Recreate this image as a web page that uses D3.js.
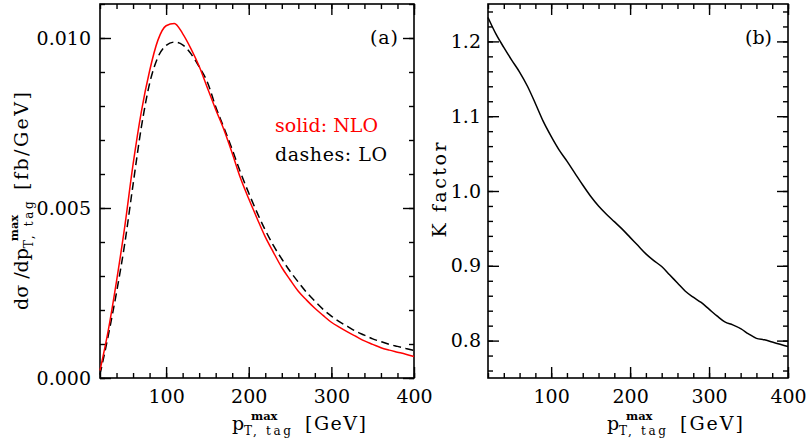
<!DOCTYPE html>
<html><head><meta charset="utf-8">
<script src="https://cdn.jsdelivr.net/npm/d3@7"></script>
<style>
body{margin:0;background:#fff}
svg text{font-family:"DejaVu Serif",serif;fill:#000}
</style></head><body>
<svg id="chart" width="809" height="448"></svg>
<script>
// ---- data ----
const pT = [20,30,40,50,60,70,80,90,100,110,120,130,140,150,160,170,180,190,200,210,220,230,240,250,260,270,280,290,300,310,320,330,340,350,360,370,380,390,400];
const sigmaNLO = [0.00022,0.00140,0.00285,0.00446,0.00628,0.00783,0.00903,0.00993,0.01036,0.01043,0.01013,0.00969,0.00917,0.00853,0.00790,0.00730,0.00661,0.00588,0.00527,0.00470,0.00415,0.00369,0.00325,0.00289,0.00255,0.00229,0.00205,0.00184,0.00164,0.00149,0.00135,0.00122,0.00109,0.00099,0.00089,0.00082,0.00076,0.00070,0.00063];
const sigmaLO = [0.00010,0.00125,0.00252,0.00396,0.00569,0.00737,0.00866,0.00943,0.00978,0.00988,0.00980,0.00954,0.00915,0.00870,0.00798,0.00736,0.00672,0.00605,0.00544,0.00487,0.00435,0.00389,0.00350,0.00314,0.00282,0.00252,0.00226,0.00202,0.00182,0.00165,0.00151,0.00137,0.00126,0.00115,0.00107,0.00099,0.00093,0.00087,0.00081];
const kFactor = [1.232,1.210,1.192,1.175,1.159,1.140,1.117,1.093,1.073,1.055,1.040,1.024,1.008,0.993,0.980,0.969,0.959,0.949,0.938,0.927,0.916,0.907,0.899,0.888,0.877,0.866,0.858,0.851,0.842,0.833,0.825,0.821,0.816,0.809,0.803,0.801,0.798,0.795,0.792];

const xTicks = [100,200,300,400];
const xMinorTicks = d3.range(20,401,20);
const sigmaTicks = [0,0.005,0.010];
const sigmaTickLabels = ["0.000","0.005","0.010"];
const sigmaMinorTicks = d3.range(0,0.0111,0.001);
const kTicks = [0.8,0.9,1.0,1.1,1.2];
const kTickLabels = ["0.8","0.9","1.0","1.1","1.2"];
const kMinorTicks = d3.range(0.76,1.25,0.02);
const legendLabels = ["solid: NLO","dashes: LO"];
const panelLabels = ["(a)","(b)"];

// ---- layout ----
const svg = d3.select("#chart");
const yTop = 4, yBot = 378;
const FS = 19;
const panels = [
  {x0:100, x1:414, yDomain:[0,0.011], ticks:sigmaTicks, labels:sigmaTickLabels, minor:sigmaMinorTicks, tag:panelLabels[0], tagX:370, tagW:28, pad:9},
  {x0:488, x1:788, yDomain:[0.75,1.25], ticks:kTicks, labels:kTickLabels, minor:kMinorTicks, tag:panelLabels[1], tagX:745, tagW:27, pad:7}
];

function txt(parent, x, y, s, size, len){
  const t = parent.append("text").attr("x",x).attr("y",y).style("font-size",size+"px").text(s);
  if(len){ t.attr("textLength",len).attr("lengthAdjust","spacing"); }
  return t;
}

panels.forEach(p=>{
  p.x = d3.scaleLinear().domain([20,400]).range([p.x0,p.x1]);
  p.y = d3.scaleLinear().domain(p.yDomain).range([yBot,yTop]);
  const g = svg.append("g");
  const mk = (axis, tr, vals, size, fmt) => {
    const a = g.append("g").attr("transform",tr)
      .call(axis.tickValues(vals).tickSize(size).tickPadding(p.pad).tickFormat(fmt));
    a.select(".domain").remove();
    a.selectAll("line").attr("stroke","#000").attr("stroke-width",1.4);
    a.selectAll("text").style("font-size",FS+"px").attr("fill","#000").attr("font-family",null);
    return a;
  };
  const none = ()=>"";
  mk(d3.axisBottom(p.x), `translate(0,${yBot})`, xMinorTicks, -5, none);
  const bx = mk(d3.axisBottom(p.x), `translate(0,${yBot})`, xTicks, -11, d3.format("d"));
  bx.selectAll("text").attr("dy","0.9em").attr("y",8);
  mk(d3.axisTop(p.x), `translate(0,${yTop})`, xMinorTicks, -5, none);
  mk(d3.axisTop(p.x), `translate(0,${yTop})`, xTicks, -11, none);
  mk(d3.axisLeft(p.y), `translate(${p.x0},0)`, p.minor, -5, none);
  mk(d3.axisLeft(p.y), `translate(${p.x0},0)`, p.ticks, -11, (d,i)=>p.labels[i]);
  mk(d3.axisRight(p.y), `translate(${p.x1},0)`, p.minor, -5, none);
  mk(d3.axisRight(p.y), `translate(${p.x1},0)`, p.ticks, -11, none);
  g.append("rect").attr("x",p.x0).attr("y",yTop).attr("width",p.x1-p.x0).attr("height",yBot-yTop)
    .attr("fill","none").attr("stroke","#000").attr("stroke-width",1.6);
  txt(g, p.tagX, 44, p.tag, FS, p.tagW);
});

// ---- curves ----
const L = panels[0], R = panels[1];
const lineL = (vals)=>d3.line().x((d,i)=>L.x(pT[i])).y(d=>L.y(d)).curve(d3.curveMonotoneX)(vals);
svg.append("path").attr("d",lineL(sigmaLO)).attr("fill","none").attr("stroke","#000").attr("stroke-width",1.5).attr("stroke-dasharray","8,4.5");
svg.append("path").attr("d",lineL(sigmaNLO)).attr("fill","none").attr("stroke","#ff0000").attr("stroke-width",1.5);
svg.append("path").attr("d",d3.line().x((d,i)=>R.x(pT[i])).y(d=>R.y(d)).curve(d3.curveMonotoneX)(kFactor))
  .attr("fill","none").attr("stroke","#000").attr("stroke-width",1.5);

// ---- legend ----
txt(svg, 275, 132, legendLabels[0], FS, 103).style("fill","#ff0000");
txt(svg, 275, 161, legendLabels[1], FS, 112);

// ---- axis titles ----
function pTitle(g, x0, y0, pre, post, postLen, postAt){
  let x = x0;
  if(pre){ const t = txt(g, x, y0, pre, FS); x += t.node().getComputedTextLength(); }
  txt(g, x, y0, "p", FS);
  txt(g, x+12, y0+5, "T, tag", 12, 47);
  txt(g, x+19, y0-10, "max", 11.5).style("font-weight","bold");
  txt(g, postAt != null ? postAt : x+73, y0, post, FS, postLen);
}
pTitle(svg.append("g"), 232, 430, null, "[GeV]", 61);
pTitle(svg.append("g"), 607, 430, null, "[GeV]", 63);
pTitle(svg.append("g").attr("transform","translate(28,310) rotate(-90)"), 0, 0, "dσ /d", "[fb/GeV]", 98, 120);
svg.append("text").attr("transform","translate(446,190) rotate(-90)").attr("x",-47.5).attr("y",0)
  .attr("textLength",95).attr("lengthAdjust","spacing").style("font-size",FS+"px").text("K factor");
</script>
</body></html>
